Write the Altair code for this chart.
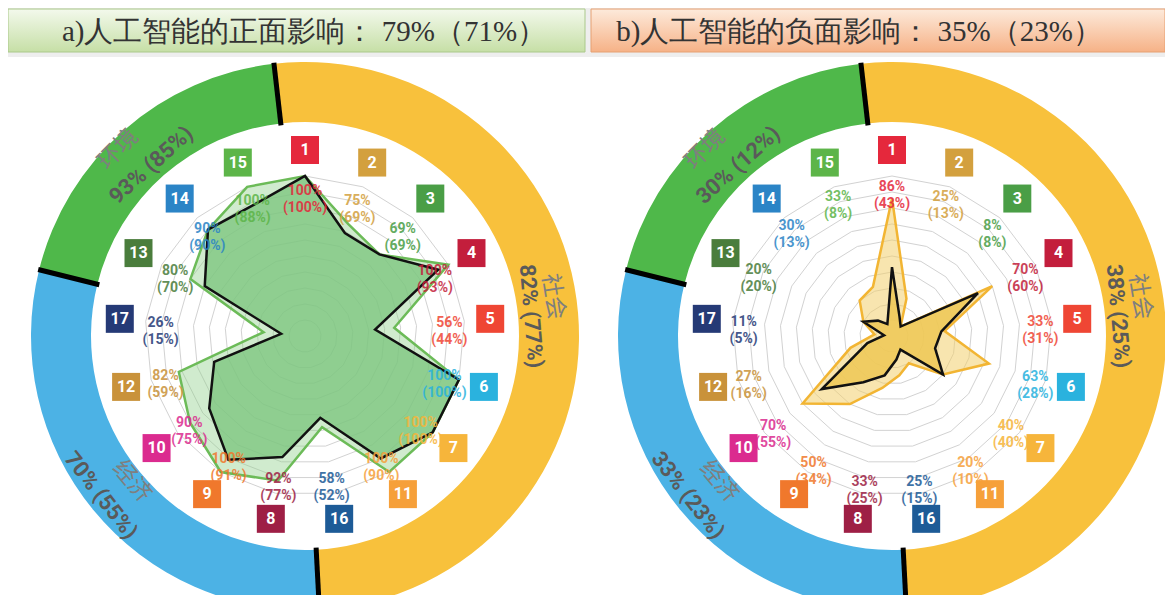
import altair as alt
import pandas as pd

# ---------------- data ----------------
sdg_order = [1, 2, 3, 4, 5, 6, 7, 11, 16, 8, 9, 10, 12, 17, 13, 14, 15]
sdg_colors = ["#e5283c", "#d3a03e", "#4a9e46", "#c31e3c", "#ef4634", "#2ab2de",
              "#f6b53b", "#f6a03a", "#1d5b97", "#9e1f45", "#f0782c", "#db2b8f",
              "#c9923a", "#253a76", "#4a7d3c", "#2b84c6", "#5db549"]
pos_all = [100, 75, 69, 100, 56, 100, 100, 100, 58, 92, 100, 90, 82, 26, 80, 90, 100]
pos_sub = [100, 69, 69, 93, 44, 100, 100, 90, 52, 77, 91, 75, 59, 15, 70, 90, 88]
neg_all = [86, 25, 8, 70, 33, 63, 40, 20, 25, 33, 50, 70, 27, 11, 20, 30, 33]
neg_sub = [43, 13, 8, 60, 31, 28, 40, 10, 15, 25, 34, 55, 16, 5, 20, 13, 8]
grid_levels = [10, 20, 30, 40, 50, 60, 70, 80, 90, 100]
group_names = ["社会", "经济", "环境"]
group_start = [-6.5, 177, 284]
group_end = [177, 284, 353.5]
group_colors = ["#f8c13c", "#4cb2e5", "#4fb84a"]
pos_group_pct = ["82% (77%)", "70% (55%)", "93% (85%)"]
neg_group_pct = ["38% (25%)", "33% (23%)", "30% (12%)"]
panel_titles = ["a)人工智能的正面影响： 79%（71%）", "b)人工智能的负面影响： 35%（23%）"]

# ---------------- layout ----------------
W, H = 1157, 587
CX = [297, 884]
CY = 328
R_FULL = 160
R_BOX = 186
R_LABEL = [145, 149]
R_IN, R_OUT = 214, 274
name_phi = [81, 230, -45]
name_r = [251, 226, 264]
pct_phi = [85, 232, -42]
pct_r = [227, 259, 230]
rot_off = [0, -180, 0]
title_x = [296, 851]
banner_x0 = [0, 583]
banner_x1 = [577, 1157]

xs = alt.Scale(domain=[0, W], nice=False, zero=False)
ys = alt.Scale(domain=[0, H], nice=False, zero=False, reverse=True)


def X(f):
    return alt.X(f, scale=xs, axis=None)


def Y(f):
    return alt.Y(f, scale=ys, axis=None)


# radar table
rows = []
for p, (va, vs) in enumerate([(pos_all, pos_sub), (neg_all, neg_sub)]):
    for i, s in enumerate(sdg_order):
        rows.append(dict(panel=p, idx=i, sdg=str(s), color=sdg_colors[i],
                         v_all=va[i], v_sub=vs[i], cx=CX[p], rl=R_LABEL[p],
                         label=f"{va[i]}%\n({vs[i]}%)"))
radar = pd.DataFrame(rows)

rad = (alt.Chart(radar)
       .transform_calculate(ang="datum.idx*2*PI/17")
       .transform_calculate(
           xa=f"datum.cx + datum.v_all/100*{R_FULL}*sin(datum.ang)",
           ya=f"{CY} - datum.v_all/100*{R_FULL}*cos(datum.ang)",
           xb=f"datum.cx + datum.v_sub/100*{R_FULL}*sin(datum.ang)",
           yb=f"{CY} - datum.v_sub/100*{R_FULL}*cos(datum.ang)",
           xl=f"datum.cx + datum.rl*sin(datum.ang)",
           yl=f"{CY} - datum.rl*cos(datum.ang)",
           xq=f"datum.cx + {R_BOX}*sin(datum.ang)",
           yq=f"{CY} - {R_BOX}*cos(datum.ang)",
       ))

# grid
grows = []
for p in range(2):
    for lev in grid_levels:
        for i in range(17):
            grows.append(dict(panel=p, ring=f"{p}-{lev}", lev=lev, idx=i, cx=CX[p]))
grid = pd.DataFrame(grows)
grid_layer = (alt.Chart(grid)
              .transform_calculate(ang="datum.idx*2*PI/17")
              .transform_calculate(
                  gx=f"datum.cx + datum.lev/100*{R_FULL}*sin(datum.ang)",
                  gy=f"{CY} - datum.lev/100*{R_FULL}*cos(datum.ang)")
              .mark_line(interpolate="linear-closed", stroke="#d2d2d2", strokeWidth=1)
              .encode(x=X("gx:Q"), y=Y("gy:Q"), order=alt.Order("idx:Q"),
                      detail=alt.Detail("ring:N")))

# ring arcs
arows = []
trows = []
for p in range(2):
    for g in range(3):
        arows.append(dict(panel=p, cx=CX[p], cy=CY, t0=group_start[g], t1=group_end[g],
                          color=group_colors[g], sep=group_start[g]))
        trows.append(dict(panel=p, cx=CX[p], name=group_names[g],
                          pct=(pos_group_pct if p == 0 else neg_group_pct)[g],
                          pn=name_phi[g], rn=name_r[g], pp=pct_phi[g], rp=pct_r[g],
                          off=rot_off[g]))
arcs = pd.DataFrame(arows)
ring_layer = alt.Chart(arcs).mark_arc(radius=R_OUT, radius2=R_IN, strokeWidth=0).encode(
    x=X("cx:Q"), y=Y("cy:Q"),
    theta=alt.Theta("t0:Q", stack=False, scale=alt.Scale(domain=[0, 360], range=[0, 6.283185307])),
    theta2="t1:Q",
    color=alt.Color("color:N", scale=None))

sep_layer = (alt.Chart(arcs)
             .transform_calculate(a="datum.sep*PI/180")
             .transform_calculate(
                 x1=f"datum.cx + {R_IN - 2}*sin(datum.a)", y1=f"{CY} - {R_IN - 2}*cos(datum.a)",
                 x2=f"datum.cx + {R_OUT + 1}*sin(datum.a)", y2=f"{CY} - {R_OUT + 1}*cos(datum.a)")
             .mark_rule(color="black", strokeWidth=5)
             .encode(x=X("x1:Q"), y=Y("y1:Q"), x2="x2:Q", y2="y2:Q"))

rtext = pd.DataFrame(trows)
rt = (alt.Chart(rtext)
      .transform_calculate(
          xn=f"datum.cx + datum.rn*sin(datum.pn*PI/180)",
          yn=f"{CY} - datum.rn*cos(datum.pn*PI/180)",
          xp=f"datum.cx + datum.rp*sin(datum.pp*PI/180)",
          yp=f"{CY} - datum.rp*cos(datum.pp*PI/180)",
          rotn="datum.pn + datum.off", rotp="datum.pp + datum.off"))
name_layer = rt.mark_text(font="Noto Sans CJK SC", fontSize=23, color="#7f7f7f",
                          align="center", baseline="middle").encode(
    x=X("xn:Q"), y=Y("yn:Q"), text="name:N", angle=alt.Angle("rotn:Q", scale=None))
pct_layer = rt.mark_text(font="Roboto", fontSize=22, fontWeight="bold", color="#5a5a5a",
                         align="center", baseline="middle").encode(
    x=X("xp:Q"), y=Y("yp:Q"), text="pct:N", angle=alt.Angle("rotp:Q", scale=None))

# polygons
fills = [("#8fd08a", 0.42, "#6cbb58", "#7cc57f", 0.78),
         ("#f3cf6e", 0.55, "#f2b533", "#efc855", 0.85)]
poly_layers = []
for p in range(2):
    fo, foo, so, fi, fio = fills[p]
    sub = rad.transform_filter(f"datum.panel == {p}")
    poly_layers.append(sub.mark_line(interpolate="linear-closed", fill=fo, fillOpacity=foo,
                                     stroke=so, strokeWidth=2.5).encode(
        x=X("xa:Q"), y=Y("ya:Q"), order=alt.Order("idx:Q")))
    poly_layers.append(sub.mark_line(interpolate="linear-closed", fill=fi, fillOpacity=fio,
                                     stroke="#111111", strokeWidth=2.5).encode(
        x=X("xb:Q"), y=Y("yb:Q"), order=alt.Order("idx:Q")))

label_layer = rad.mark_text(font="Roboto", fontSize=14, fontWeight="bold", lineBreak="\n",
                            lineHeight=17, align="center", baseline="middle", opacity=0.85).encode(
    x=X("xl:Q"), y=Y("yl:Q"), text="label:N", color=alt.Color("color:N", scale=None))
box_layer = rad.mark_square(size=784, filled=True, opacity=1, strokeWidth=0).encode(
    x=X("xq:Q"), y=Y("yq:Q"), color=alt.Color("color:N", scale=None))
num_layer = rad.mark_text(font="Roboto", fontSize=16, fontWeight="bold", color="white",
                          align="center", baseline="middle").encode(
    x=X("xq:Q"), y=Y("yq:Q"), text="sdg:N")

# panel background and banners
bg = pd.DataFrame(dict(x0=[0], x1=[W], y0=[49], y1=[H]))
bg_layer = alt.Chart(bg).mark_rect(color="white").encode(
    x=X("x0:Q"), x2="x1:Q", y=Y("y0:Q"), y2="y1:Q")

grads = [("#f3f9ec", "#c6dfa6", "#aac88a"), ("#fdeadb", "#f6b287", "#e6a072")]
banner_layers = []
for p in range(2):
    top, bot, border = grads[p]
    bdf = pd.DataFrame(dict(x0=[banner_x0[p]], x1=[banner_x1[p]], y0=[1], y1=[44]))
    banner_layers.append(alt.Chart(bdf).mark_rect(
        fill=alt.Gradient(gradient="linear",
                          stops=[alt.GradientStop(color=top, offset=0),
                                 alt.GradientStop(color=bot, offset=1)],
                          x1=0, x2=0, y1=0, y2=1),
        stroke=border, strokeWidth=1).encode(
        x=X("x0:Q"), x2="x1:Q", y=Y("y0:Q"), y2="y1:Q"))

tdf = pd.DataFrame(dict(tx=title_x, ty=[24, 24], text=panel_titles))
title_layer = alt.Chart(tdf).mark_text(font="Liberation Serif", fontSize=29, color="#333333",
                                       align="center", baseline="middle").encode(
    x=X("tx:Q"), y=Y("ty:Q"), text="text:N")

chart = alt.layer(
    bg_layer, *banner_layers, title_layer,
    ring_layer, sep_layer, name_layer, pct_layer,
    grid_layer, *poly_layers, label_layer, box_layer, num_layer
).properties(
    width=W, height=H, padding=0,
    autosize=alt.AutoSizeParams(type="none"),
    background="#eeeeee"
).configure_view(strokeWidth=0)

chart.save("out.html", embed_options={"renderer": "svg", "actions": False})
